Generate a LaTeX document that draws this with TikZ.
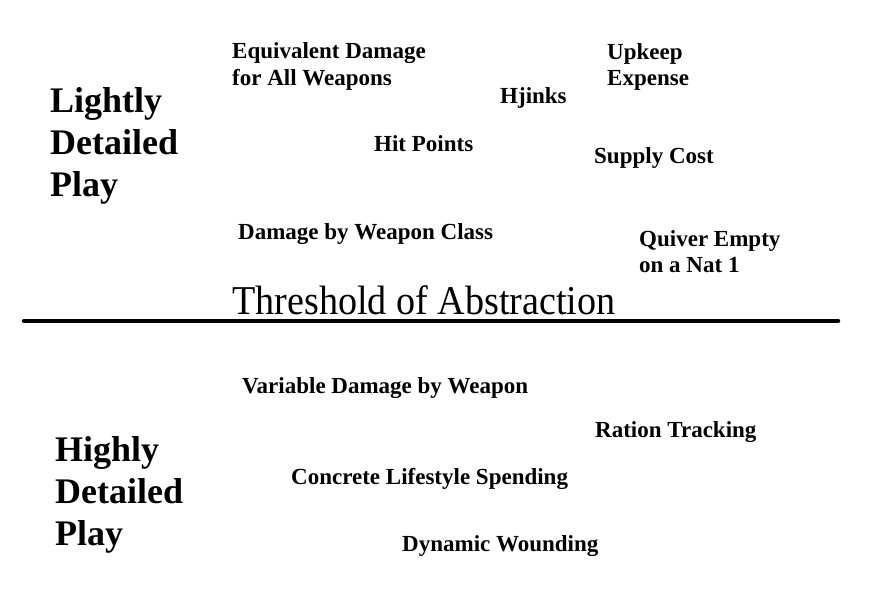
\documentclass[tikz,border=0pt]{standalone}
\usepackage{fontspec}
\setmainfont{Liberation Serif}
\newfontfamily\thresholdfont[FakeStretch=0.93]{Liberation Serif}
\usepackage{tikz}
\usetikzlibrary{positioning}

\begin{document}
\begin{tikzpicture}[
  x=1pt, y=-1pt,
  tag/.style={anchor=base west, inner sep=0pt, align=left, font=\bfseries\fontsize{23}{26}\selectfont},
  side/.style={anchor=base west, inner sep=0pt, align=left, font=\bfseries\fontsize{36}{42}\selectfont},
  threshold/.style={anchor=base west, inner sep=0pt, font=\thresholdfont\fontsize{41}{44}\selectfont},
  divider/.style={line width=4.5pt, line cap=round}
]
\useasboundingbox (0,0) rectangle (882,607);
% lightly detailed side
\node[side] (light) at (50,196) {Lightly\\Detailed\\Play};
\node[tag] (equiv) at (232,85) {Equivalent Damage\\for All Weapons};
\node[tag] (upkeep) at (607,86) {Upkeep\\Expense};
\node[tag] (hjinks) at (500,103) {Hjinks};
\node[tag] (hp) at (374,151) {Hit Points};
\node[tag] (supply) at (594,163) {Supply Cost};
\node[tag] (wclass) at (238,239) {Damage by Weapon Class};
\node[tag] (quiver) at (639,272) {Quiver Empty\\on a Nat 1};
% threshold
\node[threshold] (thr) at (232,314) {Threshold of Abstraction};
\coordinate (lineL) at (24,321);
\coordinate (lineR) at (838,321);
\draw[divider] (lineL) -- (lineR);
% highly detailed side
\node[side] (heavy) at (55,545) {Highly\\Detailed\\Play};
\node[tag] (vardmg) at (242,393) {Variable Damage by Weapon};
\node[tag] (ration) at (595,437) {Ration Tracking};
\node[tag] (life) at (291,484) {Concrete Lifestyle Spending};
\node[tag] (wound) at (402,551) {Dynamic Wounding};
\end{tikzpicture}
\end{document}
